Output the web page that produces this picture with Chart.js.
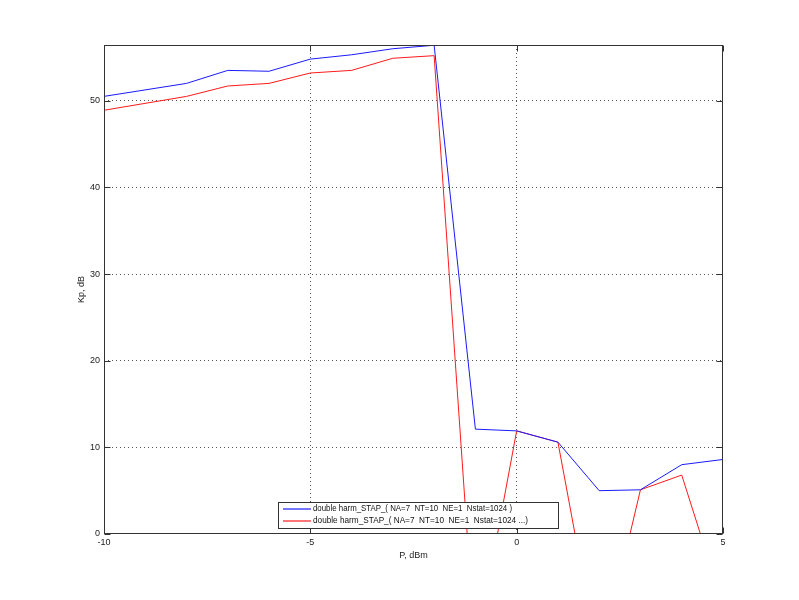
<!DOCTYPE html>
<html>
<head>
<meta charset="utf-8">
<title>Kp vs P</title>
<script src="https://cdn.jsdelivr.net/npm/chart.js@4.4.1/dist/chart.umd.min.js"></script>
<style>
  html, body { margin: 0; padding: 0; background: #fff; }
  #wrap { width: 799px; height: 600px; }
</style>
</head>
<body>
<div id="wrap"><canvas id="kpChart" width="799" height="600"></canvas></div>
<script>
// data
const powerDbm = [-10, -8, -7, -6, -5, -4, -3, -2, -1, 0, 1, 2, 3, 4, 5];
const kpBlue = [50.5, 52.0, 53.5, 53.4, 54.8, 55.3, 56.0, 56.4, 12.1, 11.9, 10.6, 5.0, 5.1, 8.0, 8.6];
const kpRed = [48.9, 50.5, 51.7, 52.0, 53.2, 53.5, 54.9, 55.2, -13.7, 11.9, 10.6, -15.0, 5.1, 6.8, -8.2];
const seriesLabels = [
  "double harm_STAP_( NA=7  NT=10  NE=1  Nstat=1024 )",
  "double harm_STAP_( NA=7  NT=10  NE=1  Nstat=1024 ...)"
];
const seriesColors = ["#1a1aff", "#ff1a1a"];
const xTicks = [-10, -5, 0, 5];
const yTicks = [0, 10, 20, 30, 40, 50];

const FONT = "Liberation Sans, Arial, sans-serif";
const AXIS_COLOR = "#333";

function toPoints(xs, ys) {
  return xs.map((x, i) => ({ x: x, y: ys[i] }));
}

// hide dotted grid where it sits on the box edge
function gridColor(ctx) {
  const s = ctx.scale;
  if (ctx.tick && (ctx.tick.value === s.min || ctx.tick.value === s.max)) return "rgba(0,0,0,0)";
  return "#555";
}

// box, inward ticks, axis titles and legend (matlab look)
const matlabFrame = {
  id: "matlabFrame",
  afterDraw(chart) {
    const ctx = chart.ctx;
    const a = chart.chartArea;
    const xs = chart.scales.x;
    const ys = chart.scales.y;
    const L = Math.round(a.left) + 0.5, R = Math.round(a.right) - 0.5;
    const T = Math.round(a.top) + 0.5, B = Math.round(a.bottom) - 0.5;

    ctx.save();
    ctx.setLineDash([]);
    ctx.strokeStyle = AXIS_COLOR;
    ctx.lineWidth = 1;
    ctx.strokeRect(L, T, R - L, B - T);

    // inward tick marks on all four sides
    const tl = 6;
    ctx.beginPath();
    xTicks.forEach(v => {
      const px = Math.round(xs.getPixelForValue(v)) + 0.5;
      ctx.moveTo(px, B); ctx.lineTo(px, B - tl);
      ctx.moveTo(px, T); ctx.lineTo(px, T + tl);
    });
    yTicks.forEach(v => {
      const py = Math.round(ys.getPixelForValue(v)) + 0.5;
      ctx.moveTo(L, py); ctx.lineTo(L + tl, py);
      ctx.moveTo(R, py); ctx.lineTo(R - tl, py);
    });
    ctx.stroke();

    // axis titles
    ctx.fillStyle = "#222";
    ctx.font = "9px " + FONT;
    ctx.textAlign = "center";
    ctx.textBaseline = "middle";
    ctx.fillText("P, dBm", (a.left + a.right) / 2, 556);
    ctx.save();
    ctx.translate(82, (a.top + a.bottom) / 2);
    ctx.rotate(-Math.PI / 2);
    ctx.fillText("Kp, dB", 0, 0);
    ctx.restore();

    // legend box
    const lx = 278.5, ly = 502.5, lw = 280, lh = 26;
    ctx.fillStyle = "#fff";
    ctx.fillRect(lx, ly, lw, lh);
    ctx.strokeStyle = AXIS_COLOR;
    ctx.strokeRect(lx, ly, lw, lh);
    const rows = [509, 521];
    seriesLabels.forEach((label, i) => {
      ctx.fillStyle = seriesColors[i];
      ctx.globalAlpha = 0.6;
      ctx.fillRect(283, rows[i] - 1, 28, 2);
      ctx.globalAlpha = 1;
      ctx.fillStyle = "#111";
      ctx.textAlign = "left";
      ctx.fillText(label, 313, rows[i], i === 0 ? 199 : 215);
    });
    ctx.restore();
  }
};

new Chart(document.getElementById("kpChart"), {
  type: "line",
  data: {
    datasets: [
      {
        label: seriesLabels[0],
        data: toPoints(powerDbm, kpBlue),
        borderColor: seriesColors[0],
        borderWidth: 1,
        pointRadius: 0,
        tension: 0,
        fill: false
      },
      {
        label: seriesLabels[1],
        data: toPoints(powerDbm, kpRed),
        borderColor: seriesColors[1],
        borderWidth: 1,
        pointRadius: 0,
        tension: 0,
        fill: false
      }
    ]
  },
  options: {
    responsive: false,
    animation: false,
    layout: { padding: { left: 0, right: 76, top: 45, bottom: 0 } },
    plugins: {
      legend: { display: false },
      tooltip: { enabled: false }
    },
    scales: {
      x: {
        type: "linear",
        min: -10,
        max: 5,
        afterFit: (s) => { s.height = 66; },
        afterBuildTicks: (s) => { s.ticks = xTicks.map(v => ({ value: v })); },
        ticks: {
          color: "#222",
          font: { family: FONT, size: 9 },
          padding: 3,
          maxRotation: 0
        },
        grid: {
          drawTicks: false,
          color: gridColor,
          lineWidth: 1
        },
        border: { display: false, dash: [1, 3] }
      },
      y: {
        type: "linear",
        min: 0,
        max: 56.43,
        afterFit: (s) => { s.width = 104; },
        afterBuildTicks: (s) => { s.ticks = yTicks.map(v => ({ value: v })); },
        ticks: {
          color: "#222",
          font: { family: FONT, size: 9 },
          padding: 4
        },
        grid: {
          drawTicks: false,
          color: gridColor,
          lineWidth: 1
        },
        border: { display: false, dash: [1, 3] }
      }
    }
  },
  plugins: [matlabFrame]
});
</script>
</body>
</html>
